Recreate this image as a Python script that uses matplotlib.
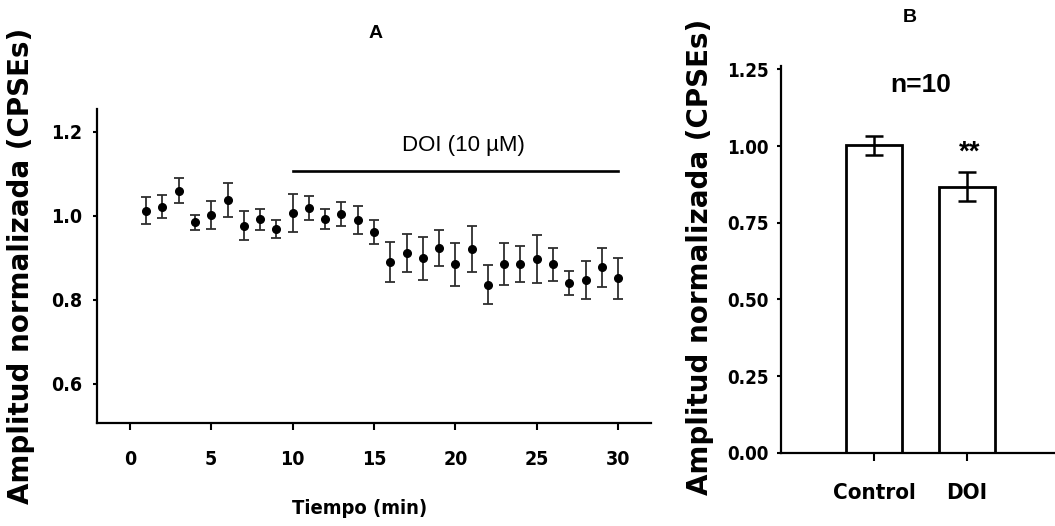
import matplotlib
matplotlib.use('Agg')
import matplotlib.pyplot as plt
import numpy as np

# panel A: time course (min) and normalized amplitude
minutes = list(range(1, 31))
amplitude = [1.012, 1.021, 1.059, 0.984, 1.002, 1.037, 0.976, 0.991, 0.968, 1.006,
             1.018, 0.992, 1.004, 0.990, 0.961, 0.889, 0.911, 0.899, 0.923, 0.884,
             0.921, 0.836, 0.885, 0.884, 0.897, 0.884, 0.840, 0.847, 0.877, 0.851]
amplitude_err = [0.032, 0.027, 0.030, 0.018, 0.033, 0.040, 0.034, 0.024, 0.021, 0.046,
                 0.028, 0.024, 0.028, 0.033, 0.028, 0.048, 0.045, 0.051, 0.042, 0.052,
                 0.054, 0.047, 0.051, 0.043, 0.057, 0.040, 0.029, 0.045, 0.047, 0.049]
doi_start, doi_end, doi_level = 10, 30, 1.107

# panel B: mean amplitude per condition
groups = ['Control', 'DOI']
group_mean = [1.003, 0.868]
group_err = [0.031, 0.048]

arial = ['Liberation Sans', 'DejaVu Sans']


def narrow_bold(lab, size):
    # condensed bold tick text (Arial Narrow look)
    lab.set_family('DejaVu Sans')
    lab.set_stretch('condensed')
    lab.set_fontweight('bold')
    lab.set_fontsize(size)


W, H = 1055, 526
fig = plt.figure(figsize=(W / 100, H / 100), dpi=100)

def px_axes(left, top, right, bottom):
    return fig.add_axes([left / W, 1 - bottom / H, (right - left) / W, (bottom - top) / H])

# ---- panel A
ax = px_axes(97.3, 109.3, 650.7, 423.3)
ax.errorbar(minutes, amplitude, yerr=amplitude_err, fmt='o', color='black',
            ecolor='#2e2e2e', elinewidth=1.3, capsize=3.5, capthick=1.3, markersize=5.5)
ax.plot([doi_start, doi_end], [doi_level, doi_level], color='black', lw=1.9)
ax.text((doi_start + doi_end) / 2 + 0.5, 1.154, 'DOI (10 µM)', ha='center', va='baseline',
        fontsize=16, family=arial)
ax.set_xlim(-2, 32)
ax.set_ylim(0.506, 1.253)
ax.set_xticks([0, 5, 10, 15, 20, 25, 30])
ax.set_yticks([0.6, 0.8, 1.0, 1.2])
ax.set_yticklabels(['0.6', '0.8', '1.0', '1.2'])
for s in ['top', 'right']:
    ax.spines[s].set_visible(False)
for s in ['left', 'bottom']:
    ax.spines[s].set_linewidth(1.6)
ax.tick_params(axis='x', length=5, width=1.5, pad=14)
ax.tick_params(axis='y', length=3, width=1.5, pad=8)
for lab in ax.get_xticklabels() + ax.get_yticklabels():
    narrow_bold(lab, 14)
ax.set_xlabel('Tiempo (min)')
narrow_bold(ax.xaxis.label, 14.5)
ax.xaxis.set_label_coords((360 - 97.3) / 553.4, -(508 - 423.3) / 314)
ax.xaxis.label.set_va('center')

# ---- panel B
bx = px_axes(781, 66.3, 1055, 452.7)
pos = np.arange(len(groups))
bx.bar(pos, group_mean, width=0.6, color='white', edgecolor='black', linewidth=2)
bx.errorbar(pos, group_mean, yerr=group_err, fmt='none', ecolor='black',
            elinewidth=1.8, capsize=6.5, capthick=1.8)
bx.set_xlim(-1.0, 1.95)
bx.set_ylim(0, 1.26)
bx.set_xticks(pos)
bx.set_xticklabels(groups)
bx.set_yticks([0, 0.25, 0.5, 0.75, 1.0, 1.25])
bx.set_yticklabels(['0.00', '0.25', '0.50', '0.75', '1.00', '1.25'])
for s in ['top', 'right']:
    bx.spines[s].set_visible(False)
for s in ['left', 'bottom']:
    bx.spines[s].set_linewidth(1.6)
bx.tick_params(axis='x', length=6, width=1.5, pad=16)
bx.tick_params(axis='y', length=3, width=1.5, pad=6)
for lab in bx.get_yticklabels():
    narrow_bold(lab, 13.5)
for lab in bx.get_xticklabels():
    narrow_bold(lab, 16)
bx.text(0.5, 1.20, 'n=10', ha='center', va='center', fontsize=19, fontweight='bold', family=arial)
bx.text(1.035, 0.955, '**', ha='center', va='baseline', fontsize=20, fontweight='bold', family=arial)

# ---- titles and y labels
fig.text(376 / W, 1 - 33 / H, 'A', ha='center', va='center', fontsize=14, fontweight='bold', family=arial)
fig.text(910 / W, 1 - 18 / H, 'B', ha='center', va='center', fontsize=14, fontweight='bold', family=arial)
ylab = 'Amplitud normalizada (CPSEs)'
fig.text(21 / W, 1 - 266 / H, ylab, rotation=90, ha='center', va='center',
         fontsize=20, fontweight='bold', family='DejaVu Sans')
fig.text(700 / W, 1 - 257 / H, ylab, rotation=90, ha='center', va='center',
         fontsize=20, fontweight='bold', family='DejaVu Sans')

fig.savefig('out.png', dpi=100)
